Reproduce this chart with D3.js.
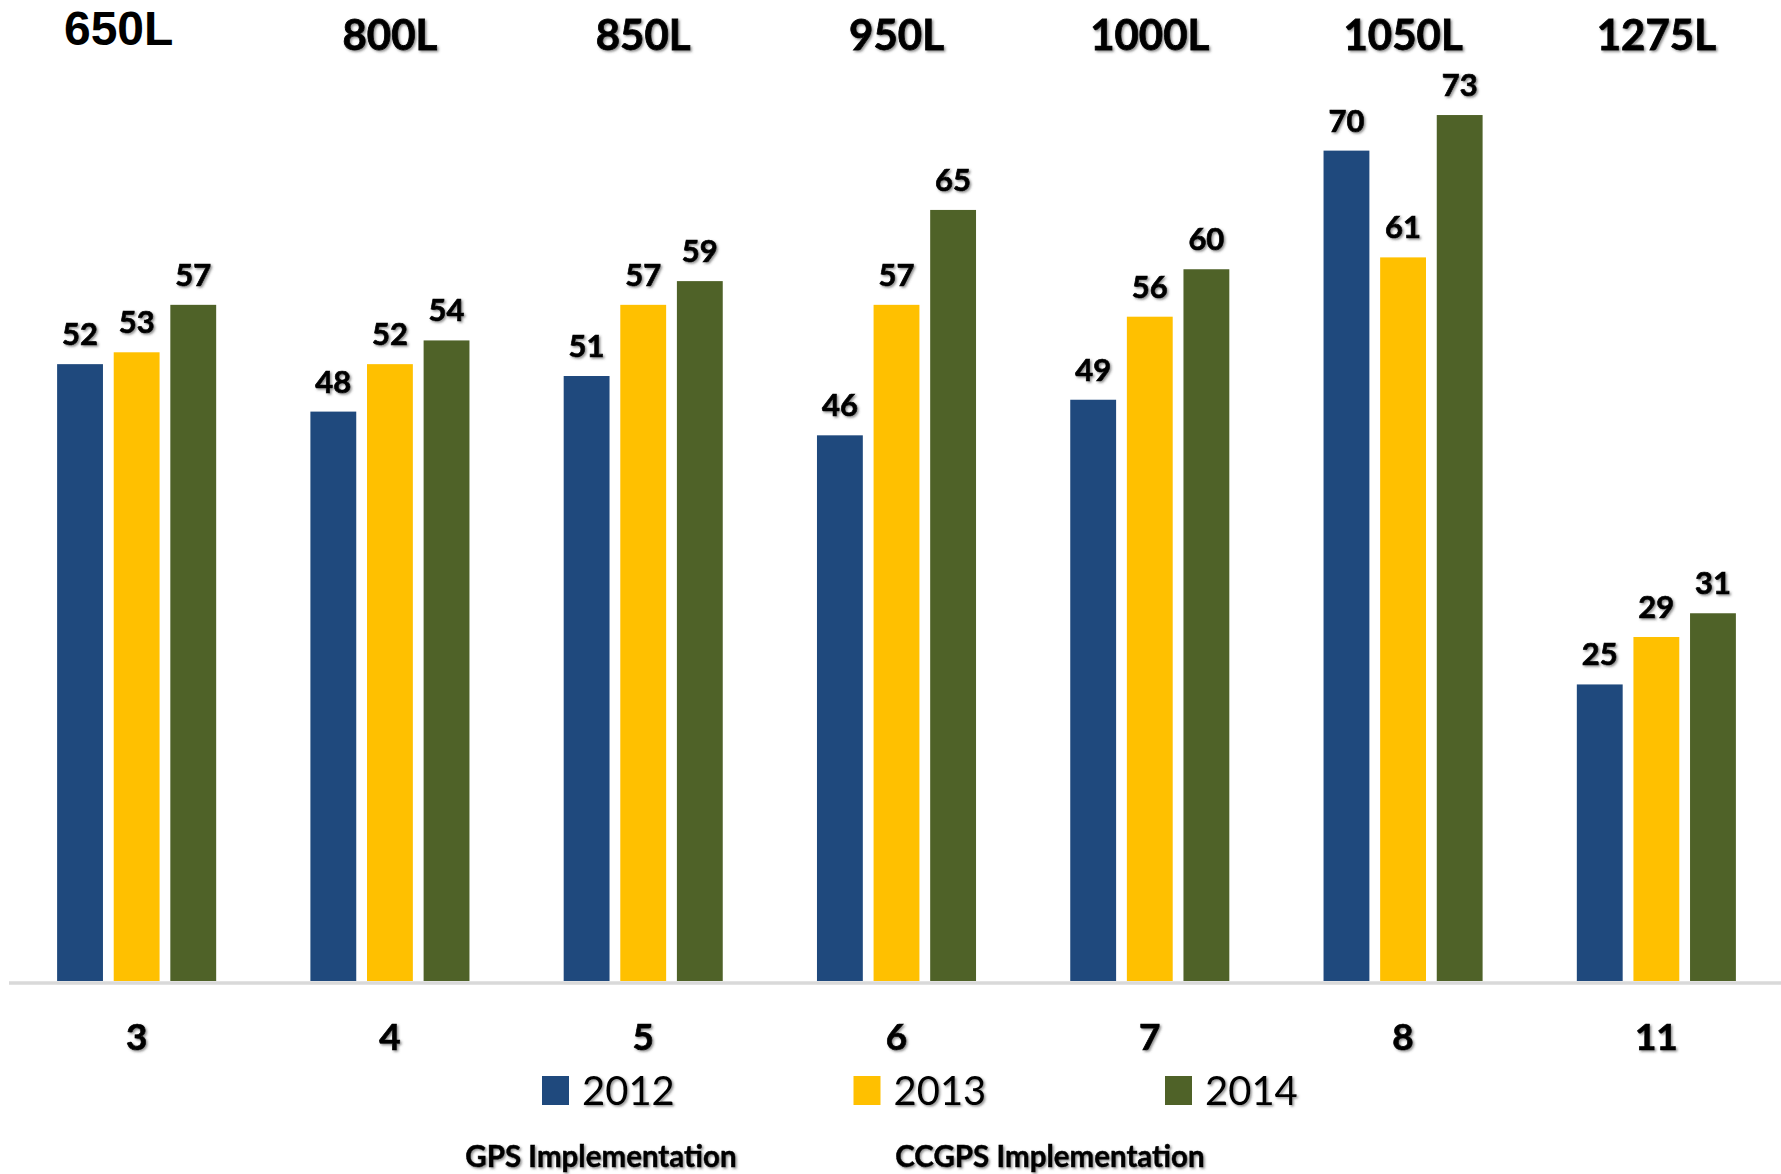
<!DOCTYPE html>
<html>
<head>
<meta charset="utf-8">
<script src="https://cdn.jsdelivr.net/npm/d3@7"></script>
<style>
  body { margin: 0; background: #fff; }
  text { font-family: Lato, "Open Sans", sans-serif; }
</style>
</head>
<body>
<div id="chart"></div>
<script>
// data
let levels = ["650L", "800L", "850L", "950L", "1000L", "1050L", "1275L"];
let grades = ["3", "4", "5", "6", "7", "8", "11"];
let years = ["2012", "2013", "2014"];
let values2012 = [52, 48, 51, 46, 49, 70, 25];
let values2013 = [53, 52, 57, 57, 56, 61, 29];
let values2014 = [57, 54, 59, 65, 60, 73, 31];
let colors = ["#1f497d", "#ffc000", "#4f6228"];
let notes = ["GPS Implementation", "CCGPS Implementation"];

let width = 1781, height = 1174;
let series = [values2012, values2013, values2014];

let svg = d3.select("#chart")
    .append("svg")
        .attr("width", width)
        .attr("height", height);

// soft shadow like the office text effect
let filter = svg.append("defs").append("filter")
    .attr("id", "shadow")
    .attr("x", "-10%").attr("y", "-10%")
    .attr("width", "130%").attr("height", "130%");
filter.append("feDropShadow")
    .attr("dx", 1.5).attr("dy", 1.5)
    .attr("stdDeviation", 0.8)
    .attr("flood-color", "#444")
    .attr("flood-opacity", 0.6);

// X scales (groups and bars inside a group)
let x0 = d3.scaleBand()
    .domain(grades)
    .range([10, 1783])
    .paddingInner(0.372)
    .paddingOuter(0.186);

let x1 = d3.scaleBand()
    .domain(years)
    .range([0, x0.bandwidth()])
    .paddingInner(0.19);

// Y scale
let y = d3.scaleLinear()
    .domain([0, 80])
    .range([981, 32]);

// bars
let rows = grades.map(function(g, i) {
    return years.map(function(yr, j) {
        return {grade: g, year: yr, value: series[j][i], color: colors[j]};
    });
});

let groups = svg.append("g")
    .selectAll("g")
    .data(rows)
    .enter()
    .append("g")
        .attr("transform", function(d, i) { return "translate(" + x0(grades[i]) + ",0)"; });

groups.selectAll("rect")
    .data(function(d) { return d; })
    .enter()
    .append("rect")
        .attr("x", function(d) { return x1(d.year); })
        .attr("y", function(d) { return y(d.value); })
        .attr("width", x1.bandwidth())
        .attr("height", function(d) { return y(0) - y(d.value); })
        .style("fill", function(d) { return d.color; });

// value labels
groups.selectAll("text")
    .data(function(d) { return d; })
    .enter()
    .append("text")
        .attr("x", function(d) { return x1(d.year) + x1.bandwidth() / 2; })
        .attr("y", function(d) { return y(d.value) - 19; })
        .attr("text-anchor", "middle")
        .attr("filter", "url(#shadow)")
        .style("font-size", "31px")
        .style("font-weight", 700)
        .style("stroke", "#000")
        .style("stroke-width", 0.7)
        .text(function(d) { return d.value; });

// baseline
svg.append("line")
    .attr("x1", 9).attr("x2", width)
    .attr("y1", y(0) + 2).attr("y2", y(0) + 2)
    .style("stroke", "#d9d9d9")
    .style("stroke-width", 3.5);

// grade labels under the axis
let xAxis = svg.append("g")
    .attr("transform", "translate(0," + (y(0) + 2) + ")")
    .call(d3.axisBottom(x0).tickSize(0).tickPadding(0));
xAxis.select(".domain").remove();
xAxis.selectAll("text")
    .attr("y", 67)
    .attr("dy", 0)
    .attr("filter", "url(#shadow)")
    .style("font-family", "Lato, sans-serif")
    .style("font-size", "37px")
    .style("font-weight", 700)
    .style("stroke", "#000")
    .style("stroke-width", 0.7)
    .style("fill", "#000");

// level labels on top (the first one is a separate, plainer text box)
svg.append("g")
    .selectAll("text")
    .data(levels)
    .enter()
    .append("text")
        .attr("x", function(d, i) { return x0(grades[i]) + x0.bandwidth() / 2 - (i === 0 ? 18 : 0); })
        .attr("y", function(d, i) { return i === 0 ? 45 : 50; })
        .attr("text-anchor", "middle")
        .attr("filter", function(d, i) { return i === 0 ? null : "url(#shadow)"; })
        .style("font-family", function(d, i) { return i === 0 ? "'Liberation Sans', Arial, sans-serif" : "Lato, sans-serif"; })
        .style("font-size", function(d, i) { return i === 0 ? "48px" : "42px"; })
        .style("font-weight", 700)
        .style("stroke", "#000")
        .style("stroke-width", function(d, i) { return i === 0 ? 0 : 0.8; })
        .text(function(d) { return d; });

// legend
let legend = svg.append("g")
    .selectAll("g")
    .data(years)
    .enter()
    .append("g")
        .attr("transform", function(d, i) { return "translate(" + (542 + i * 311.5) + ",1076)"; });

legend.append("rect")
    .attr("width", 27)
    .attr("height", 29)
    .style("fill", function(d, i) { return colors[i]; });

legend.append("text")
    .attr("x", 40)
    .attr("y", 29)
    .attr("filter", "url(#shadow)")
    .style("font-size", "40px")
    .text(function(d) { return d; });

// implementation notes
svg.append("g")
    .selectAll("text")
    .data(notes)
    .enter()
    .append("text")
        .attr("x", function(d, i) { return i === 0 ? 601 : 1050; })
        .attr("y", 1167)
        .attr("text-anchor", "middle")
        .attr("filter", "url(#shadow)")
        .style("font-size", "29.5px")
        .style("font-weight", 700)
        .style("stroke", "#000")
        .style("stroke-width", 0.5)
        .text(function(d) { return d; });
</script>
</body>
</html>
